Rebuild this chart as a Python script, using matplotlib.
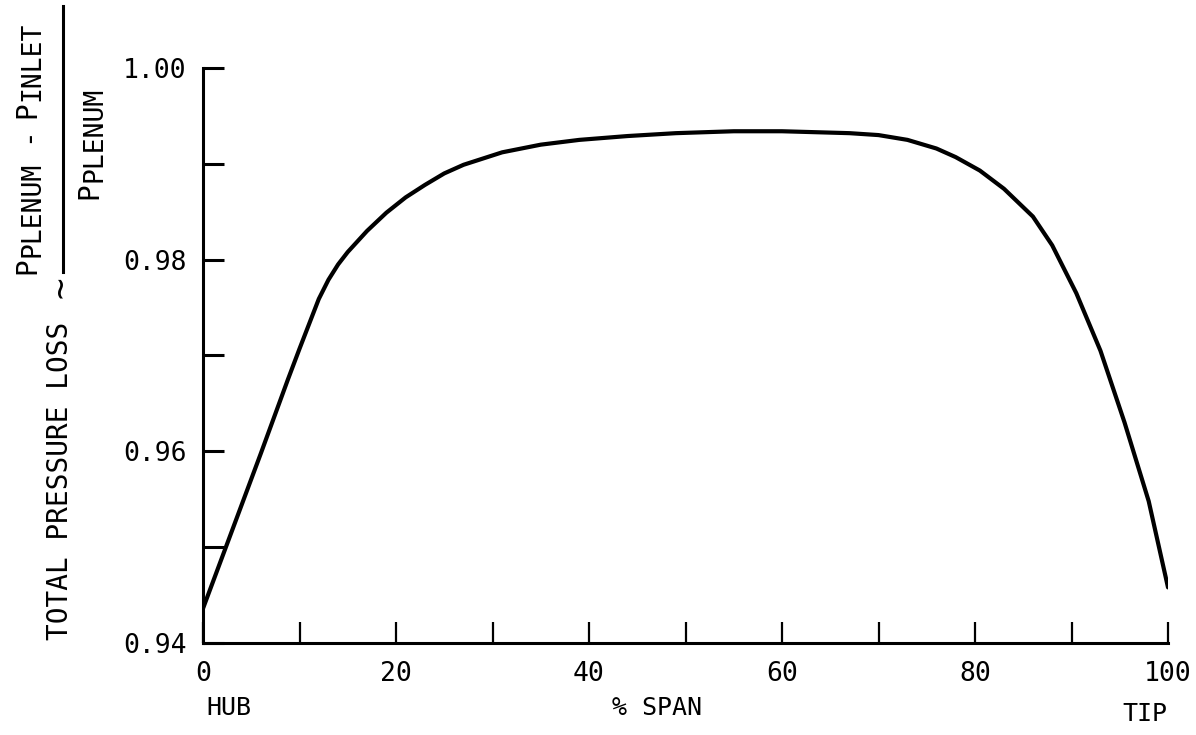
"""
Spanwise total pressure loss profile, hub to tip.
Saves out.png
"""

import matplotlib
matplotlib.use("Agg")
import matplotlib.pyplot as plt
from matplotlib.lines import Line2D
from matplotlib.ticker import MultipleLocator


# ---------- Data ----------
span_pct = [0, 3, 6, 8.8, 10, 11.5, 12, 13, 14, 15, 17, 19, 21, 23, 25, 27,
            31, 35, 39, 44, 49, 55, 60, 67, 70, 73, 76, 78, 80.5, 83, 86, 88,
            90.5, 93, 95.5, 98, 99, 100]
loss_ratio = [0.9436, 0.9517, 0.9598, 0.9675, 0.9707, 0.9746, 0.9759, 0.9779,
              0.9795, 0.9808, 0.9830, 0.9849, 0.9865, 0.9878, 0.9890, 0.9899,
              0.9912, 0.9920, 0.9925, 0.9929, 0.9932, 0.9934, 0.9934, 0.9932,
              0.9930, 0.9925, 0.9916, 0.9907, 0.9893, 0.9874, 0.9845, 0.9815,
              0.9765, 0.9705, 0.9630, 0.9548, 0.9503, 0.9458]

x_ticks = [0, 20, 40, 60, 80, 100]
y_ticks = [0.94, 0.96, 0.98, 1.00]
y_tick_labels = ["0.94", "0.96", "0.98", "1.00"]

FONT = "DejaVu Sans Mono"
W, H = 1196, 735


def fx(px):
    return px / W


def fy(py):
    return 1 - py / H


def vtext(fig, x, y, s, size):
    # rotated text, anchored at start of string on its baseline
    fig.text(fx(x), fy(y), s, rotation=90, rotation_mode="anchor",
             ha="left", va="baseline", fontsize=size, family=FONT)


def main():
    fig = plt.figure(figsize=(W / 100, H / 100), dpi=100)
    ax = fig.add_axes([fx(203), fy(643), fx(1168) - fx(203), fy(68) - fy(643)])

    ax.plot(span_pct, loss_ratio, color="black", lw=3.0,
            solid_capstyle="round", solid_joinstyle="round")

    ax.set_xlim(0, 100)
    ax.set_ylim(0.94, 1.00)

    for side in ["top", "right"]:
        ax.spines[side].set_visible(False)
    for side in ["left", "bottom"]:
        ax.spines[side].set_linewidth(2.2)

    ax.set_xticks(x_ticks)
    ax.set_xticklabels([str(t) for t in x_ticks])
    ax.xaxis.set_minor_locator(MultipleLocator(10))
    ax.set_yticks(y_ticks)
    ax.set_yticklabels(y_tick_labels)
    ax.yaxis.set_minor_locator(MultipleLocator(0.01))

    ax.tick_params(axis="x", which="both", direction="in", length=15,
                   width=1.6, pad=13)
    ax.tick_params(axis="y", which="both", direction="in", length=15,
                   width=2.2, pad=12)
    for lab in ax.get_xticklabels() + ax.get_yticklabels():
        lab.set_family(FONT)
        lab.set_fontsize(19)

    # end labels under the x axis
    trans = ax.get_xaxis_transform()
    ax.text(0.3, -0.113, "HUB", transform=trans, ha="left", va="center",
            fontsize=18, family=FONT)
    ax.text(47, -0.113, "% SPAN", transform=trans, ha="center", va="center",
            fontsize=18, family=FONT)
    ax.text(97.6, -0.124, "TIP", transform=trans, ha="center", va="center",
            fontsize=18, family=FONT)

    # y label: TOTAL PRESSURE LOSS ~ (P_plenum - P_inlet) / P_plenum
    vtext(fig, 68, 640, "TOTAL PRESSURE LOSS", 20)
    vtext(fig, 71, 298, "~", 26)

    # numerator
    vtext(fig, 35, 274, "P", 20)
    vtext(fig, 39, 257, "PLENUM", 19)
    vtext(fig, 35, 143, "-", 20)
    vtext(fig, 35, 118, "P", 20)
    vtext(fig, 39, 101, "INLET", 19)

    # fraction bar
    fig.add_artist(Line2D([fx(63), fx(63)], [fy(272), fy(6)], color="black",
                          lw=2.2, transform=fig.transFigure))

    # denominator
    vtext(fig, 97, 199, "P", 20)
    vtext(fig, 101, 182, "PLENUM", 19)

    fig.savefig("out.png", dpi=100)
    plt.close(fig)


if __name__ == "__main__":
    main()
